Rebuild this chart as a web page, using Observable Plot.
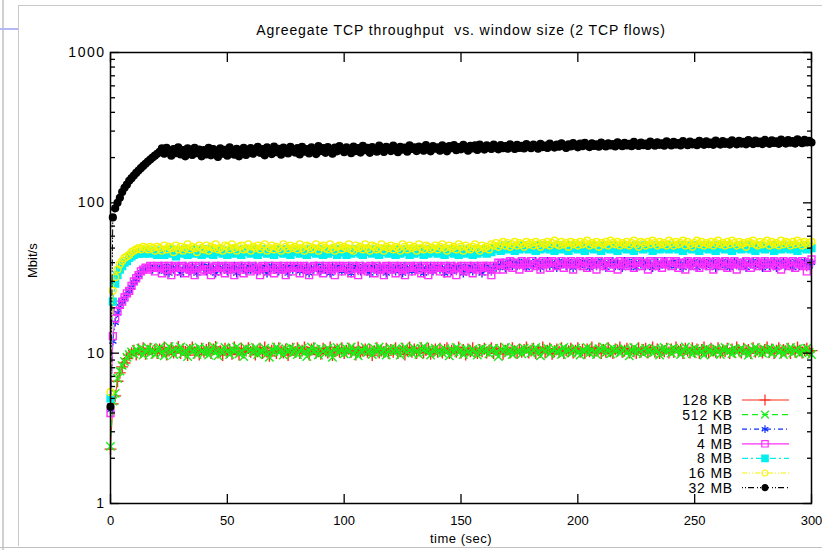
<!DOCTYPE html>
<html><head><meta charset="utf-8">
<script src="https://cdn.jsdelivr.net/npm/d3@7"></script>
<script src="https://cdn.jsdelivr.net/npm/@observablehq/plot@0.6"></script>
<style>
body{margin:0;background:#fff;}
#wrap{position:relative;width:822px;height:550px;overflow:hidden;background:#fff;}
.deco{position:absolute;}
</style></head><body><div id="wrap"></div>
<script>
const title = "Agreegate TCP throughput  vs. window size (2 TCP flows)";
const xLabel = "time (sec)";
const yLabel = "Mbit/s";
const xTicks = [0, 50, 100, 150, 200, 250, 300];
const yTicks = [1, 10, 100, 1000];
const yMinor = [2,3,4,5,6,7,8,9,20,30,40,50,60,70,80,90,200,300,400,500,600,700,800,900];

const time = [0,1,2,3,4,5,6,7,8,9,10,11,12,13,14,15,16,17,18,19,
20,21,22,23,24,25,26,27,28,29,30,31,32,33,34,35,36,37,38,39,
40,41,42,43,44,45,46,47,48,49,50,51,52,53,54,55,56,57,58,59,
60,61,62,63,64,65,66,67,68,69,70,71,72,73,74,75,76,77,78,79,
80,81,82,83,84,85,86,87,88,89,90,91,92,93,94,95,96,97,98,99,
100,101,102,103,104,105,106,107,108,109,110,111,112,113,114,115,116,117,118,119,
120,121,122,123,124,125,126,127,128,129,130,131,132,133,134,135,136,137,138,139,
140,141,142,143,144,145,146,147,148,149,150,151,152,153,154,155,156,157,158,159,
160,161,162,163,164,165,166,167,168,169,170,171,172,173,174,175,176,177,178,179,
180,181,182,183,184,185,186,187,188,189,190,191,192,193,194,195,196,197,198,199,
200,201,202,203,204,205,206,207,208,209,210,211,212,213,214,215,216,217,218,219,
220,221,222,223,224,225,226,227,228,229,230,231,232,233,234,235,236,237,238,239,
240,241,242,243,244,245,246,247,248,249,250,251,252,253,254,255,256,257,258,259,
260,261,262,263,264,265,266,267,268,269,270,271,272,273,274,275,276,277,278,279,
280,281,282,283,284,285,286,287,288,289,290,291,292,293,294,295,296,297,298,299,
300];

const kb128 = [2.3,4.6,5.2,6.5,7.4,8.1,8.6,9.2,9.7,10.0,10.4,9.8,10.6,10.2,10.8,9.9,10.4,10.7,10.1,10.5,
10.0,10.6,10.2,10.9,9.8,10.4,10.8,10.1,10.3,11.0,10.0,10.6,10.2,9.7,10.5,10.9,10.1,10.4,9.8,10.7,
10.2,10.5,10.8,10.0,10.6,11.0,10.1,10.3,9.7,10.7,10.2,10.5,9.9,10.9,10.3,9.8,10.7,10.1,10.4,10.8,
10.2,10.6,9.8,10.3,10.7,10.0,10.9,10.2,9.6,10.4,10.7,10.0,10.8,10.3,10.1,10.6,9.7,10.4,10.7,10.2,
10.8,10.0,10.4,10.9,10.2,9.8,10.6,10.8,10.1,10.3,9.9,10.7,10.4,10.1,10.9,9.7,10.3,10.6,10.2,10.8,
10.0,10.4,10.7,10.2,10.6,9.8,10.9,10.1,10.4,10.6,10.2,10.5,9.7,10.3,10.8,10.1,10.4,10.2,10.7,10.0,
10.5,10.2,10.8,10.0,10.3,10.7,9.8,10.4,10.9,10.2,10.6,10.0,10.4,10.8,10.1,10.5,10.7,9.9,10.3,10.6,
10.2,10.7,10.1,10.5,10.8,10.0,10.4,10.6,10.2,10.9,10.1,10.5,9.8,10.6,10.3,10.8,10.2,10.0,10.5,10.3,
10.7,10.1,10.4,10.8,10.0,10.5,10.2,10.7,9.9,10.4,10.6,10.1,10.8,10.3,10.0,10.6,10.2,10.5,10.9,10.1,
10.4,10.7,10.0,10.5,10.2,10.9,10.1,10.4,10.7,9.9,10.3,10.6,10.2,10.8,10.0,10.5,10.3,10.7,10.1,10.4,
10.8,10.2,10.5,10.0,10.6,10.3,10.9,10.1,10.4,10.7,10.0,10.5,10.2,10.8,10.3,10.0,10.6,10.4,10.9,10.2,
10.4,10.7,10.1,10.6,10.3,10.0,10.8,10.2,10.5,10.7,10.1,10.4,10.9,10.2,10.6,10.0,10.5,10.3,10.7,10.1,
10.6,10.2,10.9,10.3,10.5,10.0,10.7,10.4,10.1,10.8,10.2,10.6,10.0,10.5,10.9,10.3,10.1,10.7,10.4,10.2,
10.8,10.1,10.5,10.3,10.7,10.0,10.6,10.2,10.9,10.4,10.1,10.7,10.3,10.5,10.0,10.8,10.2,10.6,10.4,10.1,
10.5,10.9,10.2,10.6,10.0,10.4,10.8,10.1,10.5,10.3,10.7,10.0,10.6,10.2,10.9,10.4,10.1,10.5,10.7,10.2,
10.4];

const kb512 = [2.4,4.8,5.4,6.8,7.6,8.3,8.8,9.4,9.8,10.2,9.9,10.6,10.1,10.8,9.7,10.3,10.9,10.0,10.5,9.8,
10.6,10.9,10.1,9.6,10.5,11.1,10.2,9.8,10.7,10.3,11.0,9.9,10.4,9.5,10.8,10.2,10.6,9.8,10.9,10.3,
10.0,10.7,9.7,10.4,11.1,10.2,9.6,10.5,10.1,10.9,10.3,9.8,10.7,10.2,11.0,9.9,10.4,9.5,10.8,10.3,
10.6,10.1,10.9,9.8,10.4,10.2,10.8,9.9,9.4,10.5,10.3,11.0,10.1,10.5,9.7,10.7,10.2,10.9,10.0,10.6,
9.8,10.4,10.8,10.1,9.5,10.4,11.0,10.2,10.6,9.7,10.7,10.3,10.0,10.8,10.2,9.4,10.5,10.9,10.1,10.6,
9.9,10.7,10.2,11.0,9.9,10.5,9.6,10.4,10.3,10.9,10.1,10.5,9.8,10.7,10.2,11.0,10.0,10.6,9.7,10.4,
10.8,10.2,10.7,10.4,9.7,10.6,11.0,10.1,10.5,10.0,10.8,10.3,9.8,10.7,11.1,10.2,10.6,9.7,10.5,10.8,
10.1,10.4,10.0,10.7,10.3,9.6,10.6,10.2,10.9,10.1,10.5,9.8,10.7,10.3,10.0,10.6,10.2,9.7,10.5,10.8,
10.2,10.6,9.9,10.4,10.8,10.1,9.5,10.6,10.3,10.9,10.0,10.5,9.8,10.7,10.2,10.4,9.9,10.8,10.3,10.6,
10.0,10.5,10.9,10.2,9.6,10.6,10.3,10.8,9.9,10.4,10.7,10.1,10.5,9.8,10.9,10.2,10.6,10.0,10.4,10.8,
10.1,9.7,10.5,10.3,10.9,10.0,10.6,10.2,9.8,10.7,10.4,11.0,10.1,10.5,9.9,10.8,10.3,10.6,10.0,10.4,
10.7,10.2,9.6,10.5,10.9,10.1,10.6,10.3,9.9,10.8,10.2,10.5,10.0,10.7,10.4,9.7,10.6,10.9,10.2,10.5,
10.0,10.8,10.3,10.6,9.8,10.4,11.0,10.2,10.5,9.9,10.7,10.1,10.6,10.3,9.7,10.8,10.2,10.5,10.0,10.7,
10.3,9.8,10.6,10.9,10.2,10.4,9.9,10.7,10.1,10.5,10.8,10.0,10.4,9.7,10.6,10.3,10.9,10.1,10.5,10.0,
10.6,10.2,10.8,9.9,10.4,10.7,10.1,10.5,9.8,10.6,10.3,10.9,10.0,10.4,10.7,9.9,10.5,10.2,10.8,10.1,
9.8];

const mb1 = [4.2,12,16,18.5,20.5,22,23,24.5,26,27.5,29.5,31,33,34.5,36,36.5,37,37.5,36,37,
37,36,38,35,37,34,38,36,37,38,34,36,38,37,35,38,36,34,37,38,
37,35,38,36,37,34,38,36,37,38,35,37,36,38,34,37,38,36,35,38,
36,37,38,35,37,36,38,34,37,38,36,37,35,38,36,37,34,38,36,37,
38,35,37,36,38,34,37,36,38,37,35,38,36,37,34,38,36,37,38,35,
37,36,38,34,37,38,36,35,38,37,36,34,38,37,35,38,36,37,34,38,
36,37,35,38,37,34,38,36,37,35,38,36,37,38,34,37,36,38,35,37,
38,36,37,34,38,37,35,38,36,37,38,34,37,36,38,35,37,38,36,34,
37,38,36,35,38,37,39,38,40,37,39,41,38,40,38,40,39,41,37,40,
39,38,41,39,37,40,39,41,38,40,39,37,41,39,40,38,41,39,37,40,
40,38,41,39,40,37,41,39,38,40,41,39,37,40,39,41,38,40,39,37,
41,39,40,38,41,37,40,39,41,38,40,39,37,41,40,38,39,41,40,38,
39,41,38,40,39,37,41,40,38,39,41,37,40,39,41,38,40,39,41,37,
40,39,41,38,40,37,39,41,40,38,39,41,37,40,39,41,38,40,39,37,
41,39,38,40,41,37,40,39,41,38,40,39,37,41,40,38,39,41,40,38,
40];

const mb4 = [4.0,13,17,19,21,22,23.5,25,26,28,30,31.5,33,35,36,37,36,38,37,35,
38,37,34,38,36,38,33,37,38,35,37,38,34,37,36,38,33,37,38,35,
36,38,36,33,37,38,35,37,38,34,36,38,37,33,37,38,36,34,38,37,
35,38,36,37,33,38,37,35,38,36,34,38,37,36,38,33,37,38,35,37,
38,34,37,38,36,33,37,38,35,38,36,34,38,37,36,38,33,37,38,35,
37,38,36,34,38,37,33,38,36,37,35,38,37,34,38,36,37,33,38,37,
36,38,34,37,38,36,33,37,38,35,37,38,36,34,38,37,33,38,36,37,
38,35,37,38,34,36,38,37,33,37,38,36,35,38,37,34,38,36,37,38,
35,38,37,33,38,36,40,39,36,40,38,41,37,40,39,36,41,39,40,37,
41,39,38,40,36,41,39,40,37,41,40,38,39,41,37,40,39,41,36,40,
39,41,38,40,37,41,39,40,36,41,39,38,40,41,37,39,40,36,41,39,
40,38,41,39,37,40,41,38,40,39,36,41,40,38,39,41,37,40,39,41,
38,40,41,37,39,40,36,41,39,40,38,41,37,40,39,41,38,40,36,41,
39,40,38,41,37,40,39,41,36,40,39,38,41,40,37,39,41,38,40,39,
41,37,40,39,41,38,40,36,41,39,40,38,41,37,40,39,41,38,35,40,
42];

const mb8 = [5,22,29,33,36,38,40,41,43,44,45,46,46,47,46,48,47,46,48,47,
45,48,47,45,48,46,49,47,44,48,46,47,49,45,48,47,46,49,47,45,
48,46,49,47,45,48,47,49,46,48,45,47,49,46,48,47,45,49,47,48,
46,49,47,45,48,47,49,46,48,47,45,49,47,48,46,49,47,45,48,47,
49,46,48,47,45,49,47,48,46,49,47,45,48,46,49,47,48,45,49,47,
47,45,48,46,49,47,48,46,45,49,47,48,46,49,47,45,48,47,49,46,
48,47,45,49,46,48,47,49,45,48,46,47,49,47,45,48,46,49,47,48,
46,49,47,45,48,47,49,46,48,45,47,49,46,48,47,45,49,46,48,47,
49,46,48,47,50,49,51,48,50,52,49,51,50,48,51,49,52,50,51,49,
51,50,48,52,49,51,50,52,49,51,48,50,52,49,51,50,48,52,50,51,
49,52,50,48,51,50,52,49,51,50,48,52,50,51,49,52,50,48,51,50,
52,49,51,50,48,52,50,51,49,52,50,51,48,50,52,49,51,50,52,49,
51,50,52,49,51,48,52,50,51,49,52,50,48,51,50,52,49,51,50,48,
52,50,51,49,52,50,48,51,50,52,49,51,50,52,49,51,48,50,52,51,
49,51,50,52,48,51,50,49,52,50,51,49,52,50,48,51,50,52,49,51,
50];

const mb16 = [5.5,26,32,36,39,41,43,44,45,47,48,49,50,49,51,50,49,51,50,48,
51,50,48,52,49,51,50,47,52,49,51,48,50,53,49,51,50,47,52,50,
49,52,48,51,50,53,49,50,48,52,51,49,53,50,48,51,52,49,50,53,
48,51,50,52,49,51,53,48,50,52,49,51,50,48,53,51,49,52,50,51,
49,53,50,48,52,51,49,50,53,48,51,52,50,49,53,50,48,51,52,49,
51,50,53,49,48,52,50,51,49,53,50,48,52,51,49,50,53,48,51,50,
52,49,51,50,48,53,51,49,52,50,51,48,53,50,49,52,51,49,50,52,
49,51,53,50,48,52,50,51,49,53,51,48,52,50,49,51,53,50,48,52,
50,51,49,53,52,54,51,53,55,52,54,51,53,55,52,54,53,51,55,53,
54,52,55,53,51,54,53,55,52,54,56,53,52,55,53,54,51,55,53,54,
52,55,53,54,56,52,54,53,55,51,54,53,55,52,56,54,53,55,52,54,
53,55,52,54,56,53,51,55,54,52,55,53,56,54,52,55,53,54,52,56,
54,52,55,53,54,56,52,55,53,51,54,56,53,55,52,54,53,55,52,54,
56,53,54,52,55,53,56,54,52,55,53,54,51,55,54,56,53,52,55,53,
54,56,52,55,53,54,52,56,53,55,54,52,55,53,56,54,52,55,53,54,
55];

const mb32 = [4.4,80,92,100,108,118,126,132,140,146,152,158,164,170,176,182,188,194,200,206,
212,218,230,212,232,220,206,228,214,234,210,224,204,230,218,208,232,214,226,204,
224,210,232,207,228,216,202,230,212,225,206,234,219,209,229,204,222,232,208,218,
231,212,226,236,215,228,207,234,221,211,237,217,229,209,233,224,213,236,226,216,
231,210,236,219,228,213,234,224,211,238,221,231,215,235,225,212,233,220,238,227,
217,234,227,214,237,221,231,216,239,224,232,215,235,227,219,240,229,218,236,230,
221,240,229,217,236,226,233,219,241,228,234,221,237,230,222,242,231,220,238,229,
234,222,241,230,220,238,231,242,224,235,227,243,232,222,239,230,241,225,244,233,
226,241,233,228,244,234,227,242,231,238,229,245,235,228,243,232,239,230,246,236,
231,244,237,229,247,235,240,232,248,238,233,244,236,249,239,232,245,237,250,240,
234,248,238,251,241,235,249,239,245,236,252,242,237,249,241,246,237,253,243,238,
251,241,247,238,254,244,239,252,242,248,239,255,245,240,253,243,249,240,256,246,
241,254,244,250,241,257,247,242,255,245,251,242,258,248,243,256,246,252,243,259,
249,244,257,247,253,244,260,250,245,258,248,254,245,261,251,246,259,249,255,246,
262,252,247,260,250,256,247,263,253,248,261,251,257,248,264,254,249,262,252,258,
252];

const seriesNames = ["128 KB", "512 KB", "1 MB", "4 MB", "8 MB", "16 MB", "32 MB"];
const seriesValues = [kb128, kb512, mb1, mb4, mb8, mb16, mb32];

// styles (gnuplot-like)
const styles = [
  {color:"#ff2a1a", dash:null,          symbol:"plus",     fill:"none"},
  {color:"#18f018", dash:"6,4",         symbol:"times",    fill:"none"},
  {color:"#1030ff", dash:"5,3,1,3",     symbol:"asterisk", fill:"none"},
  {color:"#ff30ff", dash:null,          symbol:"square",   fill:"none"},
  {color:"#00f0f0", dash:"6,3,2,3",     symbol:"square",   fill:"#00f0f0"},
  {color:"#f5f500", dash:"5,2,1,2,1,2", symbol:"circle",   fill:"none"},
  {color:"#000000", dash:"1,2,1,2,6,3", symbol:"circle",   fill:"#000000"}
];
const symbolTypes = {plus: d3.symbolPlus, times: d3.symbolTimes, asterisk: d3.symbolAsterisk, square: d3.symbolSquare, circle: d3.symbolCircle};

const font = "'Liberation Sans', Arial, Helvetica, sans-serif";
const marks = [];
seriesValues.forEach((vals, k) => {
  const st = styles[k];
  const rows = vals.map((v, i) => ({t: time[i], v, s: seriesNames[k]}));
  marks.push(Plot.line(rows, {x:"t", y:"v", stroke: st.color, strokeWidth: 1, strokeDasharray: st.dash || undefined}));
  marks.push(Plot.dot(rows, {x:"t", y:"v", symbol: st.symbol, r: st.symbol === "circle" ? 3.4 : 3.9, stroke: st.color, fill: st.fill, strokeWidth: 1.4}));
});

const chart = Plot.plot({
  width: 822, height: 550,
  marginLeft: 110, marginRight: 11, marginTop: 52, marginBottom: 47,
  style: {fontFamily: font, fontSize: "13px", background: "transparent", color: "#000", overflow: "visible"},
  x: {domain: [0, 300], label: null},
  y: {type: "log", domain: [1, 1000], label: null},
  marks: [
    ...marks,
    Plot.frame({stroke: "#000", strokeWidth: 1.5}),
    Plot.axisX({anchor: "bottom", ticks: xTicks, tickSize: 0, tickPadding: 12, fontSize: 13, label: null, tickFormat: d => String(d)}),
    Plot.axisX({anchor: "bottom", ticks: xTicks, tickSize: -9, fill: "none", label: null, strokeWidth: 1.3}),
    Plot.axisX({anchor: "top", ticks: xTicks, tickSize: -9, fill: "none", label: null, strokeWidth: 1.3}),
    Plot.axisY({anchor: "left", ticks: yTicks, tickSize: 0, tickPadding: 5, fontSize: 14, label: null, tickFormat: d => String(d)}),
    Plot.axisY({anchor: "left", ticks: yTicks, tickSize: -9, fill: "none", label: null, strokeWidth: 1.3}),
    Plot.axisY({anchor: "right", ticks: yTicks, tickSize: -9, fill: "none", label: null, strokeWidth: 1.3}),
    Plot.axisY({anchor: "left", ticks: yMinor, tickSize: -5, fill: "none", label: null, strokeWidth: 1.3}),
    Plot.axisY({anchor: "right", ticks: yMinor, tickSize: -5, fill: "none", label: null, strokeWidth: 1.3}),
    Plot.text([title], {frameAnchor: "top", dy: -22, lineAnchor: "middle", fontSize: 14}),
    Plot.text([xLabel], {frameAnchor: "bottom", dy: 35, lineAnchor: "middle", fontSize: 13}),
    Plot.text([yLabel], {frameAnchor: "left", dx: -78, rotate: -90, fontSize: 13})
  ]
});

const wrap = document.getElementById("wrap");
wrap.appendChild(chart);

const svg = d3.select(chart);
// widen lettering like the original bitmap font
svg.selectAll('g[aria-label="y-axis tick label"] text').attr("letter-spacing", 1.5);
svg.selectAll("text").filter(function(){ return this.textContent === title; }).attr("letter-spacing", 0.9);
svg.selectAll("text").filter(function(){ return this.textContent === xLabel; }).attr("letter-spacing", 0.5);

// legend inside plot (bottom right), gnuplot-style
const lg = svg.append("g").attr("font-family", font).attr("font-size", 14).attr("letter-spacing", 0.8);
const rowY0 = 400, rowDY = 14.6, textX = 733, lineX1 = 742, lineX2 = 789, markX = 765;
seriesNames.forEach((name, k) => {
  const st = styles[k];
  const y = rowY0 + k * rowDY;
  lg.append("text").attr("x", textX).attr("y", y).attr("dy", "0.35em").attr("text-anchor", "end").text(name);
  lg.append("line").attr("x1", lineX1).attr("x2", lineX2).attr("y1", y).attr("y2", y)
    .attr("stroke", st.color).attr("stroke-width", 1.2).attr("stroke-dasharray", st.dash);
  const sym = d3.symbol(symbolTypes[st.symbol], st.symbol === "circle" ? Math.PI * 9 : 3.6 * 3.6 * Math.PI);
  lg.append("path").attr("d", sym()).attr("transform", `translate(${markX},${y})`)
    .attr("stroke", st.color).attr("fill", st.fill).attr("stroke-width", 1.2);
});

// page decorations of the original screenshot
function deco(css){ const d = document.createElement("div"); d.className = "deco"; Object.assign(d.style, css); wrap.appendChild(d); }
deco({left:"2px", top:"0", width:"2px", height:"550px", background:"#d0d0d0"});
deco({left:"18px", top:"5px", width:"1px", height:"541px", background:"#c8c8c8"});
deco({left:"18px", top:"5px", width:"804px", height:"1px", background:"#c8c8c8"});
deco({left:"0", top:"547px", width:"822px", height:"1px", background:"#c0c0c0"});
deco({left:"0", top:"28px", width:"18px", height:"2px", background:"#b4b8f4"});
</script></body></html>
